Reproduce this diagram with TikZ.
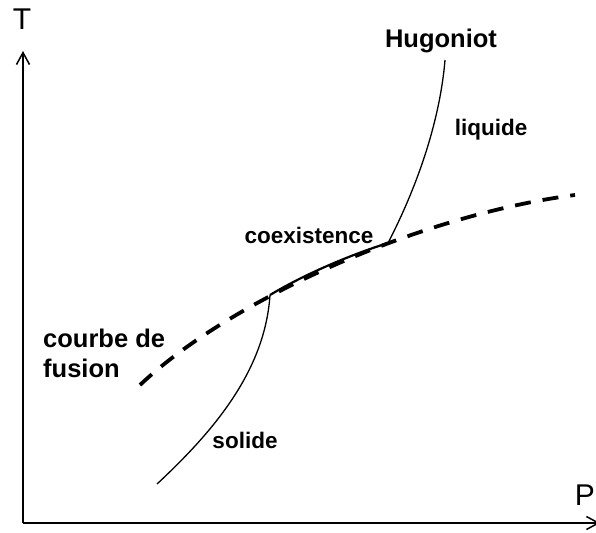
\documentclass[tikz,border=0pt]{standalone}
\usepackage{fontspec}
\setmainfont{Liberation Sans}
\usetikzlibrary{arrows.meta}

\tikzset{
  axis/.style={line width=1.5pt, -{Straight Barb[length=12pt, width=13pt, line width=1.5pt]}},
  fusionline/.style={line width=3.8pt, dash pattern=on 16pt off 12pt},
  hugo/.style={line width=1.3pt},
  lbl/.style={inner sep=0pt, font=\bfseries\fontsize{22.5}{27}\selectfont},
  biglbl/.style={inner sep=0pt, font=\bfseries\fontsize{25.5}{30}\selectfont},
  axlbl/.style={inner sep=0pt, font=\fontsize{30}{32}\selectfont}
}

\begin{document}
\begin{tikzpicture}[x=1pt, y=-1pt]
  \useasboundingbox (0,0) rectangle (596,532);

  % Axes
  \coordinate (origin) at (23,523);
  \coordinate (Tend) at (23,51);
  \coordinate (Pend) at (600,523);
  \draw[axis] (origin) -- (Tend);
  \draw[axis] (origin) -- (Pend);
  \node[axlbl, anchor=base] (T) at (22,30) {T};
  \node[axlbl, anchor=base east] (P) at (595,505) {P};

  % Melting curve (dashed)
  \coordinate (fstart) at (140,385);
  \coordinate (fend) at (575,195);
  \draw[fusionline] (fstart) .. controls (230,300) and (420,215) .. (fend);

  % Hugoniot: solid branch, coexistence, liquid branch
  \coordinate (hstart) at (157,484);
  \coordinate (hsol) at (270,295);
  \coordinate (hliq) at (388,243);
  \coordinate (hend) at (445,60);
  \draw[hugo] (hstart) .. controls (215,430) and (265,370) .. (hsol);
  \draw[hugo, line width=2.2pt] (hsol) .. controls (305,274) and (350,255) .. (hliq);
  \draw[hugo] (hliq) .. controls (418,185) and (440,120) .. (hend);

  % Labels
  \node[biglbl, anchor=base] (hugoniot) at (441,48) {Hugoniot};
  \node[lbl, anchor=base] (liquide) at (491,135) {liquide};
  \node[lbl, anchor=base] (coex) at (309,243) {coexistence};
  \node[lbl, anchor=base] (solide) at (245,448) {solide};
  \node[biglbl, anchor=base west] (courbe) at (43,347) {courbe de};
  \node[biglbl, anchor=base west] (fusion) at (43,377) {fusion};
\end{tikzpicture}
\end{document}
